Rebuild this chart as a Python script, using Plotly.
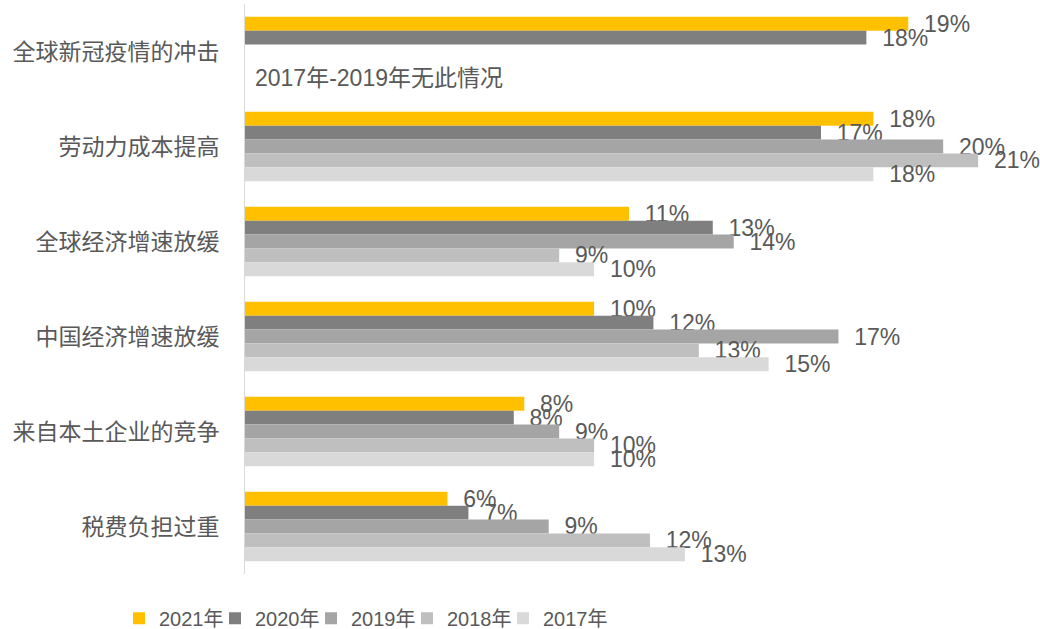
import plotly.graph_objects as go

# 数据
categories = [
    "全球新冠疫情的冲击",
    "劳动力成本提高",
    "全球经济增速放缓",
    "中国经济增速放缓",
    "来自本土企业的竞争",
    "税费负担过重",
]
years = ["2021年", "2020年", "2019年", "2018年", "2017年"]

v2021 = [19.0, 18.0, 11.0, 10.0, 8.0, 5.8]
v2020 = [17.8, 16.5, 13.4, 11.7, 7.7, 6.4]
v2019 = [None, 20.0, 14.0, 17.0, 9.0, 8.7]
v2018 = [None, 21.0, 9.0, 13.0, 10.0, 11.6]
v2017 = [None, 18.0, 10.0, 15.0, 10.0, 12.6]

l2021 = ["19%", "18%", "11%", "10%", "8%", "6%"]
l2020 = ["18%", "17%", "13%", "12%", "8%", "7%"]
l2019 = ["", "20%", "14%", "17%", "9%", "9%"]
l2018 = ["", "21%", "9%", "13%", "10%", "12%"]
l2017 = ["", "18%", "10%", "15%", "10%", "13%"]

values = [v2021, v2020, v2019, v2018, v2017]
labels = [l2021, l2020, l2019, l2018, l2017]

# 样式
COLORS = ["#FFC000", "#7F7F7F", "#A5A5A5", "#BFBFBF", "#D9D9D9"]
FONT = "Liberation Sans, Arial, Noto Sans CJK SC, sans-serif"
TEXT_COLOR = "#595959"
PAD = "\u00a0\u00a0"
LEGEND_X0 = 119   # 第一个图例项左边 (px)
LEGEND_STEP = 96  # 图例项间距 (px)

fig = go.Figure()

legend_cfg = {}
for i, (name, vals, labs, color) in enumerate(zip(years, values, labels, COLORS)):
    lg = "legend" if i == 0 else f"legend{i + 1}"
    fig.add_trace(
        go.Bar(
            name=name,
            y=categories,
            x=vals,
            orientation="h",
            marker=dict(color=color, line=dict(width=0)),
            text=[PAD + t if t else "" for t in labs],
            textposition="outside",
            constraintext="none",
            cliponaxis=False,
            textfont=dict(family=FONT, size=23, color=TEXT_COLOR),
            hoverinfo="skip",
            legend=lg,
        )
    )
    legend_cfg[lg] = dict(
        orientation="h",
        xref="container",
        yref="container",
        x=(LEGEND_X0 + LEGEND_STEP * i) / 1040,
        y=0.017,
        xanchor="left",
        yanchor="middle",
        font=dict(family=FONT, size=20, color=TEXT_COLOR),
        itemwidth=30,
        bgcolor="rgba(0,0,0,0)",
    )

fig.add_annotation(
    text="2017年-2019年无此情况",
    x=0,
    y=categories[0],
    xref="x",
    yref="y",
    xanchor="left",
    xshift=8,
    yshift=-26,
    showarrow=False,
    font=dict(family=FONT, size=23, color=TEXT_COLOR),
)

fig.update_layout(
    width=1040,
    height=629,
    margin=dict(l=245, r=27, t=4, b=55),
    paper_bgcolor="white",
    plot_bgcolor="white",
    barmode="group",
    bargap=0.27,
    bargroupgap=0,
    showlegend=True,
    font=dict(family=FONT, color=TEXT_COLOR),
    **legend_cfg,
)

fig.update_xaxes(
    range=[0, 22],
    showgrid=False,
    showticklabels=False,
    zeroline=False,
    showline=False,
    ticks="",
)

fig.update_yaxes(
    autorange="reversed",
    automargin=False,
    showgrid=False,
    showline=True,
    linecolor="#D9D9D9",
    linewidth=1,
    ticks="",
    ticklabelstandoff=20,
    tickfont=dict(family=FONT, size=23, color=TEXT_COLOR),
)

fig.write_html(
    "out.html",
    config={"displayModeBar": False},
    post_script="document.body.style.margin='0';",
)
